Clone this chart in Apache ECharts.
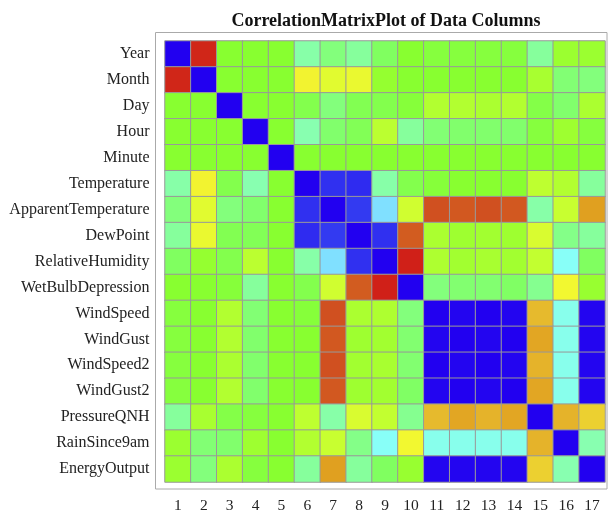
<!DOCTYPE html>
<html>
<head>
<meta charset="utf-8">
<script src="https://cdn.jsdelivr.net/npm/echarts@6/dist/echarts.min.js"></script>
<style>
  html, body { margin: 0; padding: 0; background: #fff; }
  #chart { width: 614px; height: 514px; }
</style>
</head>
<body>
<div id="chart"></div>
<script>
const columnNames = ['Year', 'Month', 'Day', 'Hour', 'Minute', 'Temperature', 'ApparentTemperature',
    'DewPoint', 'RelativeHumidity', 'WetBulbDepression', 'WindSpeed', 'WindGust', 'WindSpeed2',
    'WindGust2', 'PressureQNH', 'RainSince9am', 'EnergyOutput']
const columnNums = ['1', '2', '3', '4', '5', '6', '7', '8', '9', '10', '11', '12', '13', '14', '15', '16', '17']

// correlation values, one row per column
const rowYear = [1, -0.95, 0, 0, 0, 0.28, 0.17, 0.25, 0.1, 0, 0.03, 0.03, 0.03, 0.03, 0.25, -0.06, -0.06]
const rowMonth = [-0.95, 1, 0, 0, 0, -0.32, -0.26, -0.28, -0.04, 0, 0, 0, 0, 0, -0.1, 0.15, 0.17]
const rowDay = [0, 0, 1, 0, 0, 0.06, 0.17, 0.07, 0.06, 0.02, -0.13, -0.13, -0.11, -0.13, 0.05, 0.13, -0.11]
const rowHour = [0, 0, 0, 1, 0, 0.3, 0.13, 0.08, -0.16, 0.25, 0.15, 0.13, 0.13, 0.13, 0.03, -0.07, 0.03]
const rowMinute = [0, 0, 0, 0, 1, 0, 0, 0, 0, 0, 0, 0, 0, 0, 0, 0, 0]
const rowTemperature = [0.28, -0.32, 0.06, 0.3, 0, 1, 0.9, 0.91, 0.28, 0.06, 0.02, 0, 0, 0, -0.17, -0.13, 0.25]
const rowApparentTemp = [0.17, -0.26, 0.17, 0.13, 0, 0.9, 1, 0.88, 0.6, -0.22, -0.8, -0.78, -0.8, -0.78, 0.28, -0.2, -0.6]
const rowDewPoint = [0.25, -0.28, 0.07, 0.08, 0, 0.91, 0.88, 1, 0.9, -0.77, -0.11, -0.07, -0.08, -0.07, -0.24, 0.2, 0.25]
const rowRelHumidity = [0.1, -0.04, 0.06, -0.16, 0, 0.28, 0.6, 0.9, 1, -0.97, -0.12, -0.08, -0.1, -0.08, -0.18, 0.5, 0.1]
const rowWetBulb = [0, 0, 0.02, 0.25, 0, 0.06, -0.22, -0.77, -0.97, 1, 0.17, 0.14, 0.14, 0.11, 0.22, -0.3, -0.05]
const rowWindSpeed = [0.03, 0, -0.13, 0.15, 0, 0.02, -0.8, -0.11, -0.12, 0.17, 1, 0.99, 1, 0.99, -0.52, 0.45, 0.99]
const rowWindGust = [0.03, 0, -0.13, 0.13, 0, 0, -0.78, -0.07, -0.08, 0.14, 0.99, 1, 0.99, 1, -0.58, 0.45, 0.99]
const rowWindSpeed2 = [0.03, 0, -0.11, 0.13, 0, 0, -0.8, -0.08, -0.1, 0.14, 1, 0.99, 1, 0.99, -0.54, 0.45, 0.99]
const rowWindGust2 = [0.03, 0, -0.13, 0.13, 0, 0, -0.78, -0.07, -0.08, 0.11, 0.99, 1, 0.99, 1, -0.58, 0.45, 0.99]
const rowPressure = [0.25, -0.1, 0.05, 0.03, 0, -0.17, 0.28, -0.24, -0.18, 0.22, -0.52, -0.58, -0.54, -0.58, 1, -0.54, -0.45]
const rowRain = [-0.06, 0.15, 0.13, -0.07, 0, -0.13, -0.2, 0.2, 0.5, -0.3, 0.45, 0.45, 0.45, 0.45, -0.54, 1, 0.3]
const rowEnergy = [-0.06, 0.17, -0.11, 0.03, 0, 0.25, -0.6, 0.25, 0.1, -0.05, 0.99, 0.99, 0.99, 0.99, -0.45, 0.3, 1]

const corrRows = [rowYear, rowMonth, rowDay, rowHour, rowMinute, rowTemperature, rowApparentTemp,
    rowDewPoint, rowRelHumidity, rowWetBulb, rowWindSpeed, rowWindGust, rowWindSpeed2,
    rowWindGust2, rowPressure, rowRain, rowEnergy]

// colour ramp from -1 (red) to +1 (blue), evenly spaced stops
const ramp = ['#d01818', '#d03418', '#d05020', '#d87820', '#e0a020', '#e8c030', '#f0e030', '#f2f830',
    '#c8ff30', '#a8ff30', '#88ff30', '#80ff60', '#84ff88', '#88ffb0', '#88ffe0', '#88fff8',
    '#80e0ff', '#60a0f8', '#4060f4', '#3030f0', '#2200f0']

const cells = []
corrRows.forEach((row, y) => {
    row.forEach((v, x) => {
        cells.push([x, y, v])
    })
})

const labelFont = 'Liberation Serif, Times New Roman, serif'
const chart = echarts.init(document.getElementById('chart'))
chart.setOption({
    backgroundColor: '#fff',
    animation: false,
    title: {
        text: 'CorrelationMatrixPlot of Data Columns',
        left: 381,
        top: 7,
        textAlign: 'center',
        textStyle: { fontFamily: labelFont, fontSize: 18, fontWeight: 'bold', color: '#111' }
    },
    grid: { left: 165, right: 9, top: 41, bottom: 32 },
    xAxis: {
        type: 'category',
        data: columnNums,
        offset: 7,
        axisLine: { show: false },
        axisTick: { inside: true, length: 5, alignWithLabel: true, lineStyle: { color: '#999' } },
        axisLabel: { margin: 9, fontFamily: labelFont, fontSize: 15.5, color: '#222' },
        splitLine: { show: false }
    },
    yAxis: [{
        type: 'category',
        data: columnNames,
        inverse: true,
        offset: 9.5,
        axisLine: { show: false },
        axisTick: { inside: true, length: 5, alignWithLabel: true, lineStyle: { color: '#999' } },
        axisLabel: { margin: 6, fontFamily: labelFont, fontSize: 16, color: '#222' },
        splitLine: { show: false }
    }, {
        type: 'category',
        data: columnNames,
        inverse: true,
        position: 'right',
        offset: 1.5,
        axisLine: { show: false },
        axisTick: { length: 4, alignWithLabel: true, lineStyle: { color: '#bbb' } },
        axisLabel: { show: false },
        splitLine: { show: false }
    }],
    visualMap: {
        type: 'continuous',
        min: -1,
        max: 1,
        show: false,
        dimension: 2,
        inRange: { color: ramp }
    },
    graphic: [{
        type: 'rect',
        shape: { x: 155.5, y: 32.5, width: 451.5, height: 456.5 },
        style: { fill: 'none', stroke: '#aaa', lineWidth: 1 },
        z: -1
    }],
    series: [{
        type: 'heatmap',
        data: cells,
        itemStyle: { borderColor: '#999', borderWidth: 1 },
        emphasis: { disabled: true }
    }]
})
</script>
</body>
</html>
